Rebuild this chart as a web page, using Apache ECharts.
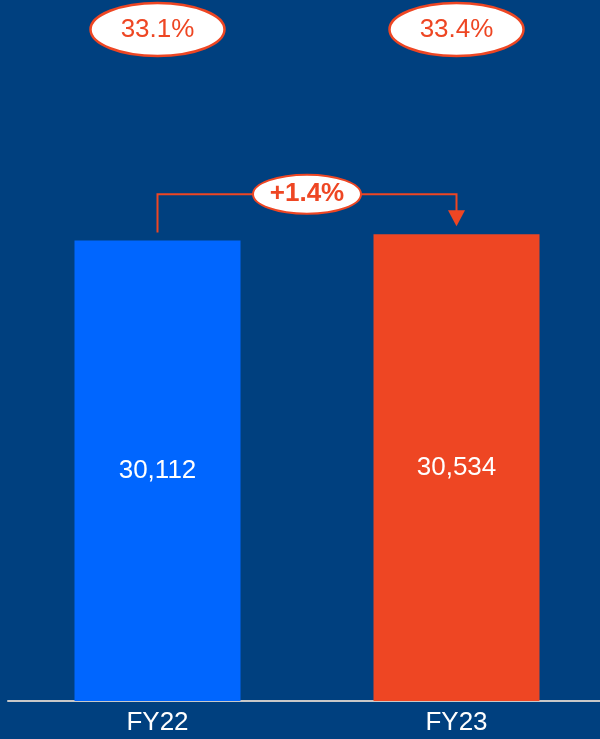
<!DOCTYPE html>
<html>
<head>
<meta charset="utf-8">
<script src="https://cdn.jsdelivr.net/npm/echarts@6.0.0/dist/echarts.min.js"></script>
<style>
  html, body { margin: 0; padding: 0; background: #00407F; }
  #chart { width: 600px; height: 739px; }
</style>
</head>
<body>
<div id="chart"></div>
<script>
// Data
const categories = ['FY22', 'FY23'];
const values = [30112, 30534];
const marginLabels = ['33.1%', '33.4%'];
const growthLabel = '+1.4%';
const barColors = ['#0066FF', '#EE4623'];

const orange = '#EE4623';
const font = '"Liberation Sans", Arial, sans-serif';

const chart = echarts.init(document.getElementById('chart'));

const option = {
    backgroundColor: '#00407F',
    animation: false,
    grid: { left: 8, width: 598, top: 13, bottom: 38, outerBoundsMode: 'none' },
    xAxis: {
        type: 'category',
        data: categories,
        axisLine: { lineStyle: { color: '#c8c8c8', width: 2 } },
        axisTick: { show: false },
        axisLabel: { color: '#fff', fontSize: 26, fontFamily: font, margin: 9 }
    },
    yAxis: {
        type: 'value',
        min: 0,
        max: 45000,
        show: false,
        splitLine: { show: false }
    },
    series: [
        {
            type: 'bar',
            barWidth: 166,
            data: values.map((v, i) => ({ value: v, itemStyle: { color: barColors[i] } })),
            label: {
                show: true,
                position: 'inside',
                color: '#fff',
                fontSize: 26,
                fontFamily: font,
                formatter: p => p.value.toLocaleString('en-US')
            }
        },
        {
            // margin ellipses at top
            type: 'custom',
            data: marginLabels.map((m, i) => [i, m]),
            z: 5,
            renderItem: function (params, api) {
                const x = api.coord([api.value(0), 0])[0];
                const cy = 29.5;
                return {
                    type: 'group',
                    children: [
                        {
                            type: 'ellipse',
                            shape: { cx: x, cy: cy, rx: 67, ry: 26.5 },
                            style: { fill: '#fff', stroke: orange, lineWidth: 2.5 }
                        },
                        {
                            type: 'text',
                            style: {
                                text: marginLabels[params.dataIndex],
                                x: x, y: cy,
                                align: 'center', verticalAlign: 'middle',
                                fill: orange,
                                font: '26px ' + font
                            }
                        }
                    ]
                };
            }
        },
        {
            // growth bridge arrow
            type: 'custom',
            data: [[0, 1]],
            z: 5,
            renderItem: function (params, api) {
                const p1 = api.coord([0, values[0]]);
                const p2 = api.coord([1, values[1]]);
                const topY = Math.min(p1[1], p2[1]) - 40;
                const startY = p1[1] - 8;
                const tipY = p2[1] - 8;
                const midX = (p1[0] + p2[0]) / 2;
                return {
                    type: 'group',
                    children: [
                        {
                            type: 'polyline',
                            shape: { points: [[p1[0], startY], [p1[0], topY], [p2[0], topY], [p2[0], tipY - 14]] },
                            style: { stroke: orange, lineWidth: 2, fill: null }
                        },
                        {
                            type: 'polygon',
                            shape: { points: [[p2[0] - 8.5, tipY - 16], [p2[0] + 8.5, tipY - 16], [p2[0], tipY]] },
                            style: { fill: orange }
                        },
                        {
                            type: 'ellipse',
                            shape: { cx: midX, cy: topY, rx: 54, ry: 19.5 },
                            style: { fill: '#fff', stroke: orange, lineWidth: 2 }
                        },
                        {
                            type: 'text',
                            style: {
                                text: growthLabel,
                                x: midX, y: topY,
                                align: 'center', verticalAlign: 'middle',
                                fill: orange,
                                font: 'bold 26px ' + font
                            }
                        }
                    ]
                };
            }
        }
    ]
};

chart.setOption(option);
</script>
</body>
</html>
